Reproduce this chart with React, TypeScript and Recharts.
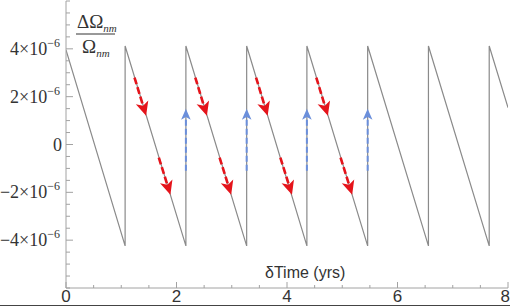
import { LineChart, Line, XAxis, YAxis, ReferenceLine } from 'recharts'

// sawtooth vertices: time in years, value in units of 1e-6
const timeYrs = [0, 1.07, 1.07, 2.17, 2.17, 3.27, 3.27, 4.36, 4.36, 5.46, 5.46, 6.56, 6.56, 7.66, 7.66, 8.0]
const deltaE6 = [3.95, -4.24, 4.12, -4.24, 4.12, -4.24, 4.12, -4.24, 4.12, -4.24, 4.12, -4.24, 4.12, -4.24, 4.12, 1.54]

const xTicks = [0, 0.5, 1, 1.5, 2, 2.5, 3, 3.5, 4, 4.5, 5, 5.5, 6, 6.5, 7, 7.5, 8]
const xMajor = [0, 2, 4, 6, 8]
const yTicks = [-6, -5.5, -5, -4.5, -4, -3.5, -3, -2.5, -2, -1.5, -1, -0.5, 0, 0.5, 1, 1.5, 2, 2.5, 3, 3.5, 4, 4.5, 5, 5.5, 6]
const yMajor = [-4, -2, 0, 2, 4]

// red arrows running down the teeth, blue arrows up the jumps
const redX1 = [1.24, 1.68, 2.34, 2.78, 3.44, 3.88, 4.53, 4.97]
const redY1 = [2.8, -0.55, 2.8, -0.55, 2.8, -0.55, 2.8, -0.55]
const redX2 = [1.45, 1.89, 2.55, 2.99, 3.65, 4.09, 4.74, 5.18]
const redY2 = [1.2, -2.1, 1.2, -2.1, 1.2, -2.1, 1.2, -2.1]
const blueX = [2.17, 3.27, 4.36, 5.46]
const blueY1 = [-1.1, -1.1, -1.1, -1.1]
const blueY2 = [1.5, 1.5, 1.5, 1.5]

const data = timeYrs.map((t, i) => ({ t, v: deltaE6[i] }))

const FRAME = '#a2a2a2'
const TEXT = '#333'
const RED = '#e5141b'
const BLUE = '#6b8fdb'

function XTick({ x, y, payload, side }: any) {
    const major = xMajor.includes(payload.value)
    const len = major ? 6 : 3
    const dir = side === 'top' ? 1 : -1
    const last = payload.value === 8
    return (
        <g>
            <line x1={x} x2={x} y1={y} y2={y + dir * len} stroke={FRAME} />
            {side !== 'top' && major && (
                <text x={last ? 510 : x} y={302} textAnchor={last ? 'end' : 'middle'}
                    fontFamily="Liberation Sans, Arial, sans-serif" fontSize={17} fill={TEXT}>
                    {payload.value}
                </text>
            )}
        </g>
    )
}

function YTick({ x, y, payload, side }: any) {
    const v = payload.value
    const major = yMajor.includes(v)
    const len = major ? 7 : 4
    const dir = side === 'right' ? -1 : 1
    let label = null
    if (side !== 'right' && major) {
        label = v === 0 ? (
            <text x={x - 4} y={y + 6} textAnchor="end" fontFamily="Liberation Serif, serif" fontSize={18} fill={TEXT}>0</text>
        ) : (
            <text x={x - 6} y={y + 6} textAnchor="end" fontFamily="Liberation Serif, serif" fontSize={18} fill={TEXT}>
                {(v < 0 ? '\u2212' : '') + Math.abs(v) + '\u00d710'}
                <tspan dy={-8} fontSize={12}>{'\u22126'}</tspan>
            </text>
        )
    }
    return (
        <g>
            <line x1={x} x2={x + dir * len} y1={y} y2={y} stroke={FRAME} />
            {label}
        </g>
    )
}

function Arrow({ x1, y1, x2, y2, color, head, half, width, dash }: any) {
    const dx = x2 - x1
    const dy = y2 - y1
    const L = Math.sqrt(dx * dx + dy * dy) || 1
    const ux = dx / L
    const uy = dy / L
    const bx = x2 - ux * head
    const by = y2 - uy * head
    const nx = x2 - ux * head * 0.75
    const ny = y2 - uy * head * 0.75
    const pts = [
        [x2, y2],
        [bx - uy * half, by + ux * half],
        [nx, ny],
        [bx + uy * half, by - ux * half],
    ].map((p) => p.join(',')).join(' ')
    return (
        <g>
            <line x1={x1} y1={y1} x2={nx} y2={ny} stroke={color} strokeWidth={width} strokeDasharray={dash} />
            <polygon points={pts} fill={color} />
        </g>
    )
}

export default function App() {
    return (
        <div style={{ position: 'absolute', left: 0, top: 0, width: 510, height: 306, background: '#fff' }}>
            <LineChart width={510} height={306} data={data} margin={{ top: 1, right: 2, bottom: 0, left: 0 }}>
                <XAxis xAxisId="bottom" dataKey="t" type="number" domain={[0, 8]} ticks={xTicks} interval={0}
                    height={18} tickSize={0} tickMargin={0} tickLine={false} axisLine={{ stroke: FRAME }}
                    tick={<XTick side="bottom" />} allowDataOverflow />
                <XAxis xAxisId="top" orientation="top" dataKey="t" type="number" domain={[0, 8]} ticks={xTicks} interval={0}
                    height={0} tickSize={0} tickMargin={0} tickLine={false} axisLine={{ stroke: FRAME }}
                    tick={<XTick side="top" />} allowDataOverflow />
                <YAxis yAxisId="left" type="number" domain={[-6, 6]} ticks={yTicks} interval={0}
                    width={66} tickSize={0} tickMargin={0} tickLine={false} axisLine={{ stroke: FRAME }}
                    tick={<YTick side="left" />} allowDataOverflow />
                <YAxis yAxisId="right" orientation="right" type="number" domain={[-6, 6]} ticks={yTicks} interval={0}
                    width={0} tickSize={0} tickMargin={0} tickLine={false} axisLine={{ stroke: FRAME }}
                    tick={<YTick side="right" />} allowDataOverflow />
                <Line xAxisId="bottom" yAxisId="left" type="linear" dataKey="v" stroke="#8a8a8a" strokeWidth={1.2}
                    dot={false} isAnimationActive={false} />
                {redX1.map((x, i) => (
                    <ReferenceLine key={'r' + i} xAxisId="bottom" yAxisId="left" ifOverflow="visible"
                        segment={[{ x, y: redY1[i] }, { x: redX2[i], y: redY2[i] }]}
                        shape={(p: any) => <Arrow {...p} color={RED} head={14} half={6.5} width={2.6} dash="7 3" />} />
                ))}
                {blueX.map((x, i) => (
                    <ReferenceLine key={'b' + i} xAxisId="bottom" yAxisId="left" ifOverflow="visible"
                        segment={[{ x, y: blueY1[i] }, { x, y: blueY2[i] }]}
                        shape={(p: any) => <Arrow {...p} color={BLUE} head={11} half={4.8} width={2} dash="6 3" />} />
                ))}
            </LineChart>
            <svg width={510} height={306} style={{ position: 'absolute', left: 0, top: 0, pointerEvents: 'none' }}>
                <text x={77} y={28} fontFamily="Liberation Serif, serif" fontSize={19} fill={TEXT}>
                    {'\u0394\u03a9'}
                    <tspan dy={4} fontSize={11} fontStyle="italic">nm</tspan>
                </text>
                <line x1={76} x2={115} y1={34} y2={34} stroke={TEXT} strokeWidth={1} />
                <text x={82} y={53} fontFamily="Liberation Serif, serif" fontSize={19} fill={TEXT}>
                    {'\u03a9'}
                    <tspan dy={4} fontSize={11} fontStyle="italic">nm</tspan>
                </text>
                <text x={265} y={278} fontFamily="Liberation Sans, Arial, sans-serif" fontSize={16} fill={TEXT}>
                    {'\u03b4Time (yrs)'}
                </text>
                <rect x={0} y={305} width={510} height={1} fill="#444" />
            </svg>
        </div>
    )
}
